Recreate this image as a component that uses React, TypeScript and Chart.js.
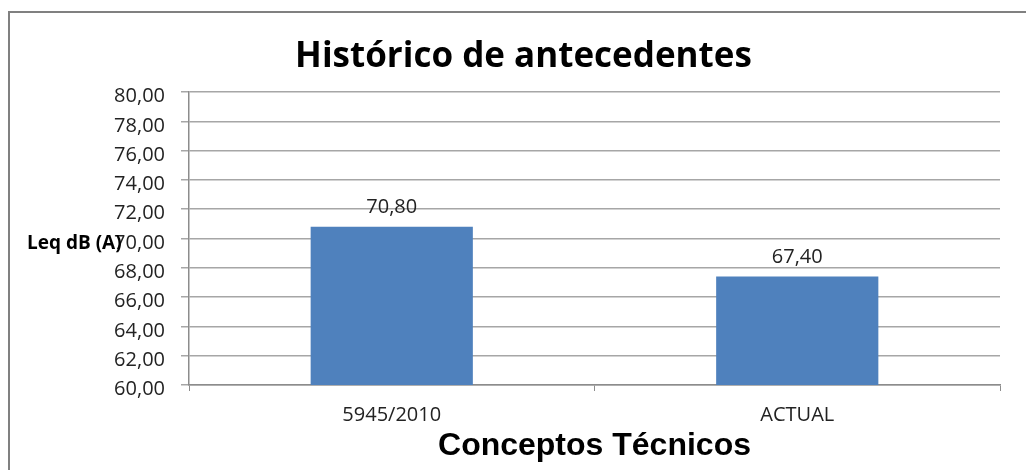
import React, { useEffect, useRef } from "react";
import { Chart, registerables } from "chart.js";

Chart.register(...registerables);

const categories = ["5945/2010", "ACTUAL"];
const values = [70.8, 67.4];
const seriesLabel = "Leq dB (A)";
const chartTitle = "Histórico de antecedentes";
const xTitle = "Conceptos Técnicos";
const yTitle = "Leq dB (A)";
const yMin = 60;
const yMax = 80;
const yStep = 2;

const fmt = (v: number) => Number(v).toFixed(2).replace(".", ",");

export default function App() {
  const ref = useRef<HTMLCanvasElement>(null);

  useEffect(() => {
    if (!ref.current) return;

    const framePlugin = {
      id: "frame",
      beforeDraw(chart: any) {
        const ctx = chart.ctx;
        ctx.save();
        ctx.fillStyle = "#ffffff";
        ctx.fillRect(0, 0, chart.width, chart.height);
        ctx.strokeStyle = "#808080";
        ctx.lineWidth = 2;
        ctx.beginPath();
        ctx.moveTo(9, chart.height + 5);
        ctx.lineTo(9, 12);
        ctx.lineTo(chart.width + 5, 12);
        ctx.stroke();
        ctx.restore();
      },
    };

    const barLabelsPlugin = {
      id: "barLabels",
      afterDatasetsDraw(chart: any) {
        const ctx = chart.ctx;
        const meta = chart.getDatasetMeta(0);
        ctx.save();
        ctx.font = '20px "Open Sans"';
        ctx.fillStyle = "#222222";
        ctx.textAlign = "center";
        ctx.textBaseline = "middle";
        meta.data.forEach((el: any, i: number) => {
          const v = chart.data.datasets[0].data[i] as number;
          ctx.fillText(fmt(v), el.x, el.y - 19.5);
        });
        ctx.restore();
      },
    };

    const yTitlePlugin = {
      id: "yTitleHoriz",
      afterDraw(chart: any) {
        const ctx = chart.ctx;
        const area = chart.chartArea;
        ctx.save();
        ctx.font = 'bold 19px "Open Sans"';
        ctx.fillStyle = "#000000";
        ctx.textAlign = "left";
        ctx.textBaseline = "middle";
        ctx.fillText(yTitle, area.left - 162, (area.top + area.bottom) / 2 + 5);
        ctx.restore();
      },
    };

    const chart = new Chart(ref.current, {
      type: "bar",
      data: {
        labels: categories,
        datasets: [
          {
            label: seriesLabel,
            data: values,
            backgroundColor: "#4F81BD",
            borderWidth: 0,
            categoryPercentage: 0.8,
            barPercentage: 0.5,
          },
        ],
      },
      options: {
        responsive: false,
        animation: false,
        devicePixelRatio: 1,
        layout: { padding: { left: 47, right: 26, top: 0, bottom: 0 } },
        plugins: {
          legend: { display: false },
          tooltip: { enabled: false },
          title: {
            display: true,
            text: chartTitle,
            color: "#000000",
            font: { family: "Open Sans", size: 35, weight: "bold" },
            padding: { top: 36, bottom: 14 },
          },
        },
        scales: {
          x: {
            grid: {
              display: true,
              drawOnChartArea: false,
              drawTicks: true,
              tickLength: 6,
              color: "#8c8c8c",
              offset: true,
            },
            border: { display: true, color: "#8c8c8c", width: 1.5 },
            ticks: {
              font: { family: "Open Sans", size: 20 },
              color: "#222222",
              padding: 12,
              maxRotation: 0,
            },
            title: {
              display: true,
              text: xTitle,
              color: "#000000",
              font: { family: "Liberation Sans", size: 32, weight: "bold" },
              padding: { top: 0, bottom: 5 },
            },
            afterFit: (s: any) => {
              s.height = 85;
            },
          },
          y: {
            min: yMin,
            max: yMax,
            ticks: {
              stepSize: yStep,
              callback: (v: any) => fmt(Number(v)),
              font: { family: "Open Sans", size: 20 },
              color: "#222222",
              padding: 16,
              labelOffset: 4.5,
            },
            grid: { color: "#a6a6a6", tickLength: 8, lineWidth: 1.5 },
            border: { display: true, color: "#8c8c8c", width: 1.5 },
            afterFit: (s: any) => {
              s.width = 142;
            },
          },
        },
      },
      plugins: [framePlugin, barLabelsPlugin, yTitlePlugin],
    });

    return () => chart.destroy();
  }, []);

  return (
    <canvas
      ref={ref}
      width={1026}
      height={470}
      style={{ position: "fixed", left: 0, top: 0, display: "block" }}
    />
  );
}
